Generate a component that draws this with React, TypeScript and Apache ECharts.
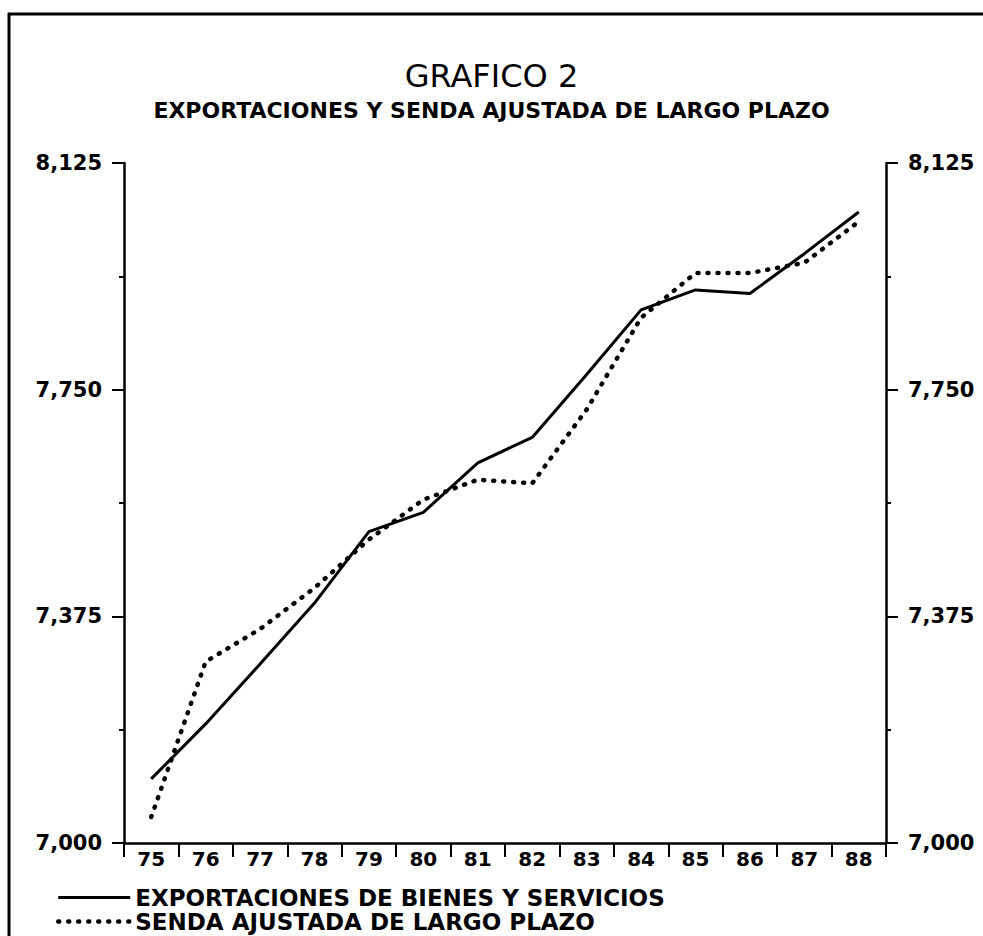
import React, { useEffect, useRef } from 'react';
import * as echarts from 'echarts';

const years = ['75', '76', '77', '78', '79', '80', '81', '82', '83', '84', '85', '86', '87', '88'];
const exportaciones = [7.106, 7.197, 7.296, 7.397, 7.515, 7.547, 7.629, 7.671, 7.775, 7.882, 7.915, 7.909, 7.975, 8.044];
const senda = [7.043, 7.300, 7.354, 7.422, 7.502, 7.568, 7.601, 7.595, 7.717, 7.869, 7.943, 7.943, 7.960, 8.028];
const yMajorTicks = [7, 7.375, 7.75, 8.125];
const yMinorTicks = [7.1875, 7.5625, 7.9375];
const titleText = 'GRAFICO 2';
const subtitleText = 'EXPORTACIONES Y SENDA AJUSTADA DE LARGO PLAZO';
const seriesNames = ['EXPORTACIONES DE BIENES Y SERVICIOS', 'SENDA AJUSTADA DE LARGO PLAZO'];

const FONT = 'DejaVu Sans';
const INK = '#000';

function fmt(v: number): string {
  return v.toFixed(3).replace('.', ',');
}

function majorAxis(position: 'left' | 'right') {
  return {
    type: 'value',
    position,
    min: 7,
    max: 8.125,
    splitLine: { show: false },
    axisLine: { show: true, lineStyle: { color: INK, width: 2.5 } },
    axisTick: { show: true, inside: false, length: 12, customValues: yMajorTicks, lineStyle: { color: INK, width: 2 } },
    axisLabel: {
      show: true,
      customValues: yMajorTicks,
      margin: 22,
      formatter: (v: number) => fmt(v),
      color: INK,
      fontFamily: FONT,
      fontSize: 21,
      fontWeight: 'bold',
    },
  };
}

function minorAxis(position: 'left' | 'right') {
  return {
    type: 'value',
    position,
    min: 7,
    max: 8.125,
    splitLine: { show: false },
    axisLine: { show: false },
    axisTick: { show: true, inside: false, length: 5, customValues: yMinorTicks, lineStyle: { color: INK, width: 2 } },
    axisLabel: { show: false },
  };
}

export default function App() {
  const ref = useRef<HTMLDivElement>(null);
  useEffect(() => {
    if (!ref.current) return;
    const chart = echarts.init(ref.current, undefined, { renderer: 'svg' });
    chart.setOption({
      animation: false,
      backgroundColor: '#fff',
      title: [
        {
          text: titleText,
          left: 'center',
          top: 60,
          padding: 0,
          textStyle: { fontFamily: FONT, fontSize: 32, fontWeight: 'normal', color: INK },
        },
        {
          text: subtitleText,
          left: 'center',
          top: 99,
          padding: 0,
          textStyle: { fontFamily: FONT, fontSize: 22, fontWeight: 'bold', color: INK },
        },
      ],
      legend: {
        orient: 'vertical',
        left: 56,
        top: 886,
        padding: 0,
        itemWidth: 72,
        itemHeight: 14,
        itemGap: 1,
        data: seriesNames,
        itemStyle: { opacity: 0 },
        lineStyle: { width: 'inherit', type: 'inherit', cap: 'inherit' },
        textStyle: { fontFamily: FONT, fontSize: 23, fontWeight: 'bold', color: INK },
      },
      grid: { left: 124, right: 97, top: 163, bottom: 93 },
      xAxis: {
        type: 'category',
        data: years,
        boundaryGap: true,
        axisLine: { show: true, onZero: false, lineStyle: { color: INK, width: 2.5 } },
        axisTick: { show: true, interval: 0, inside: false, length: 14, alignWithLabel: false, lineStyle: { color: INK, width: 2 } },
        axisLabel: { interval: 0, margin: 6, color: INK, fontFamily: FONT, fontSize: 20, fontWeight: 'bold' },
        splitLine: { show: false },
      },
      yAxis: [majorAxis('left'), minorAxis('left'), majorAxis('right'), minorAxis('right')],
      graphic: [
        { type: 'line', shape: { x1: 8, y1: 14, x2: 983, y2: 14 }, style: { stroke: INK, lineWidth: 3 } },
        { type: 'line', shape: { x1: 9, y1: 13, x2: 9, y2: 936 }, style: { stroke: INK, lineWidth: 3 } },
      ],
      series: [
        {
          name: seriesNames[0],
          type: 'line',
          yAxisIndex: 0,
          data: exportaciones,
          symbol: 'none',
          lineStyle: { color: INK, width: 3 },
          itemStyle: { color: INK },
        },
        {
          name: seriesNames[1],
          type: 'line',
          yAxisIndex: 0,
          data: senda,
          symbol: 'none',
          lineStyle: { color: INK, width: 4.5, type: [1, 9], cap: 'round' },
          itemStyle: { color: INK },
        },
      ],
    });
    return () => chart.dispose();
  }, []);
  return <div ref={ref} style={{ position: 'absolute', left: 0, top: 0, width: 983, height: 936 }} />;
}
